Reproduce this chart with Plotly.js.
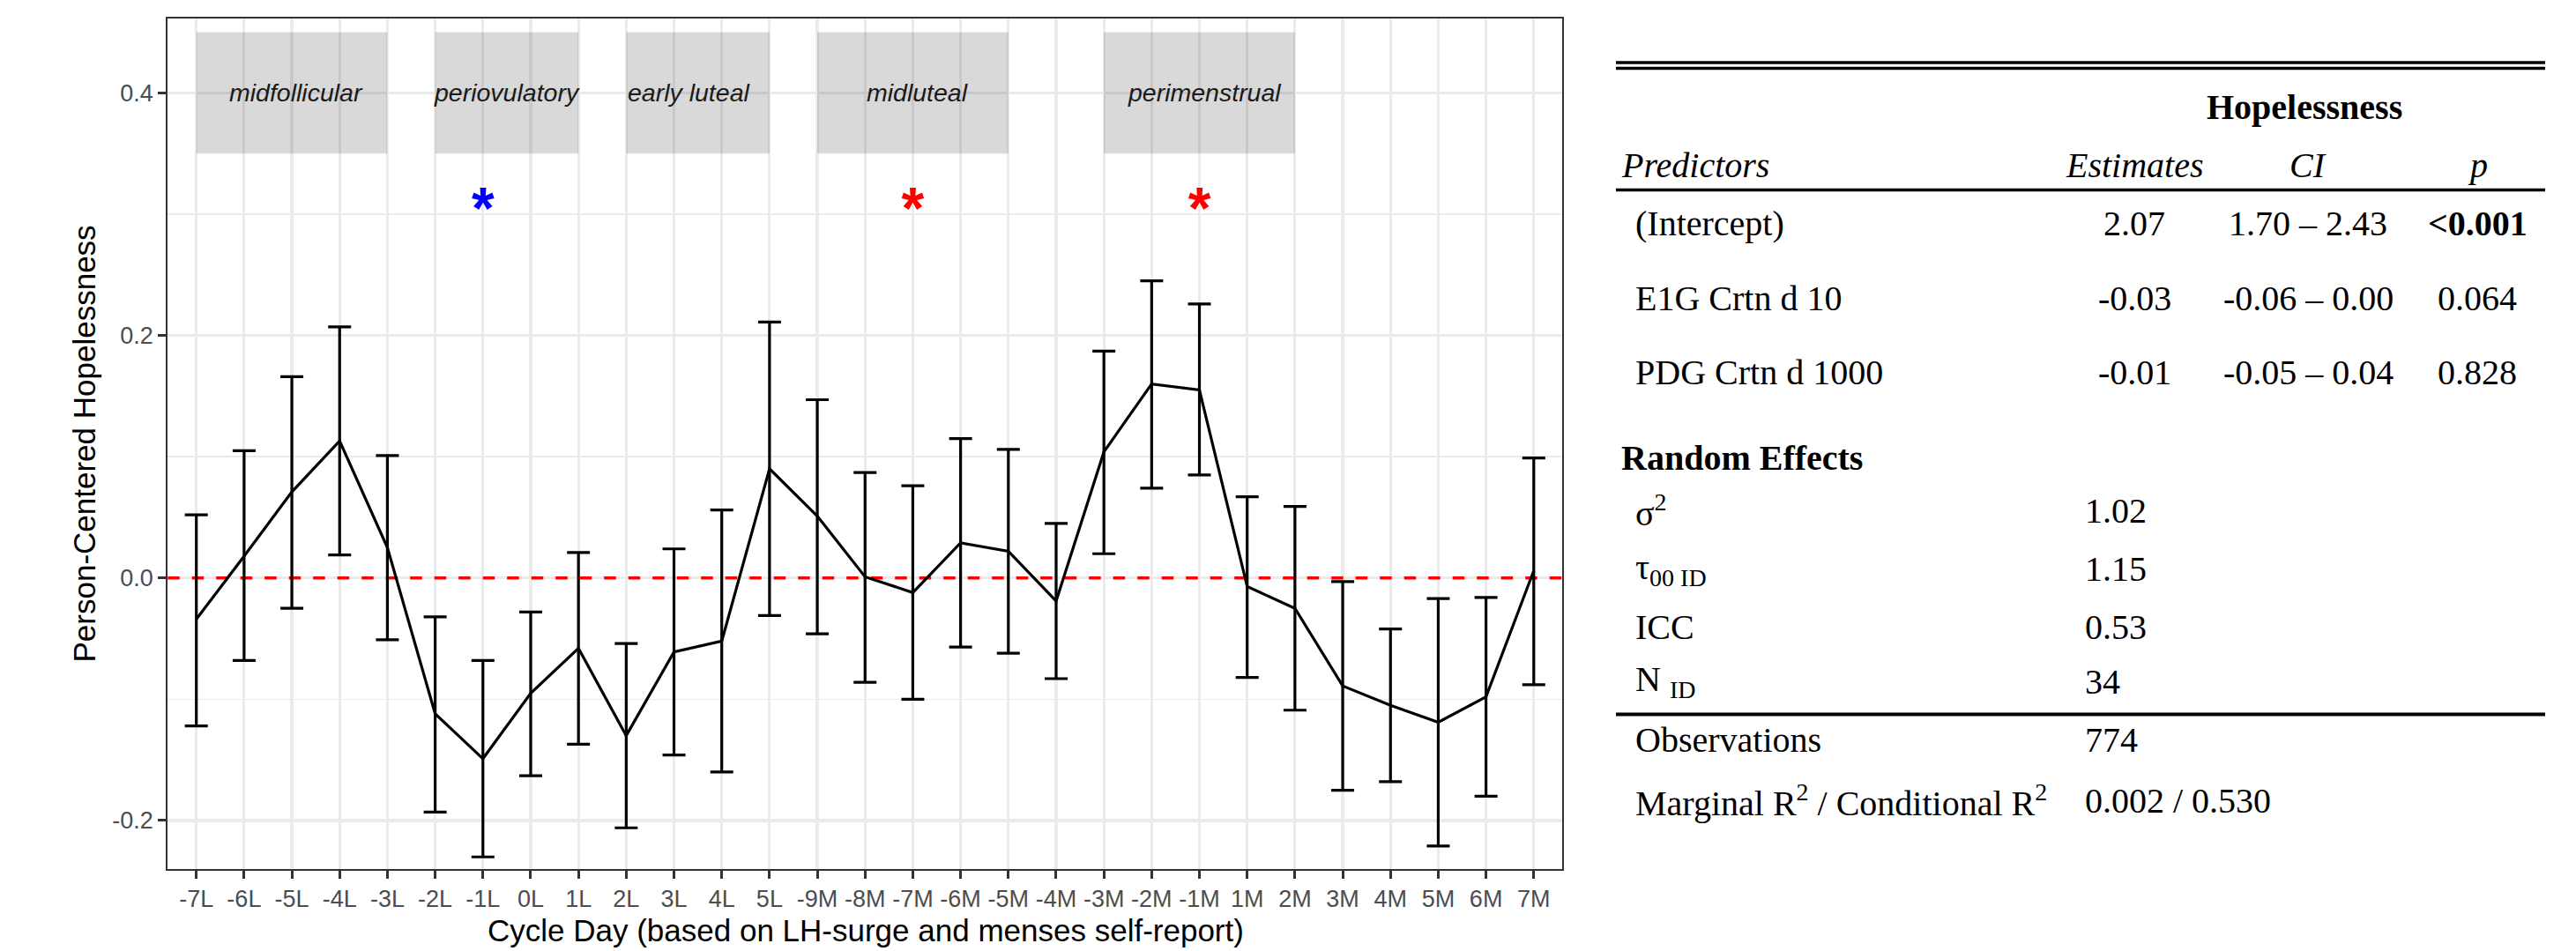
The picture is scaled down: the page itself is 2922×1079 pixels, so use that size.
<!DOCTYPE html>
<html>
<head>
<meta charset="utf-8">
<script src="https://cdn.plot.ly/plotly-3.0.1.min.js"></script>
<style>html,body{margin:0;padding:0;background:#fff;}#chart{width:2922px;height:1079px;}</style>
</head>
<body>
<div id="chart"></div>
<script>
// ---------------- DATA ----------------
const cycleDays = ['-7L','-6L','-5L','-4L','-3L','-2L','-1L','0L','1L','2L','3L','4L','5L',
  '-9M','-8M','-7M','-6M','-5M','-4M','-3M','-2M','-1M','1M','2M','3M','4M','5M','6M','7M'];
const hopelessEstimate = [-0.034,0.018,0.071,0.113,0.025,-0.112,-0.149,-0.095,-0.058,-0.130,-0.061,-0.052,0.090,
  0.051,0.001,-0.012,0.029,0.022,-0.019,0.104,0.160,0.155,-0.007,-0.025,-0.089,-0.105,-0.119,-0.098,0.006];
const hopelessUpper = [0.052,0.105,0.166,0.207,0.101,-0.032,-0.068,-0.028,0.021,-0.054,0.024,0.056,0.211,
  0.147,0.087,0.076,0.115,0.106,0.045,0.187,0.245,0.226,0.067,0.059,-0.003,-0.042,-0.017,-0.016,0.099];
const hopelessLower = [-0.122,-0.068,-0.025,0.019,-0.051,-0.193,-0.230,-0.163,-0.137,-0.206,-0.146,-0.160,-0.031,
  -0.046,-0.086,-0.100,-0.057,-0.062,-0.083,0.020,0.074,0.085,-0.082,-0.109,-0.175,-0.168,-0.221,-0.180,-0.088];

const yTickVals = [-0.2, 0, 0.2, 0.4];
const yTickText = ['-0.2', '0.0', '0.2', '0.4'];

const phaseNames = ['midfollicular','periovulatory','early luteal','midluteal','perimenstrual'];
const phaseStart = ['-7L','-2L','2L','-9M','-3M'];
const phaseEnd   = ['-3L','1L','5L','-5M','2M'];
const phaseLabelX = [2.1, 6.5, 10.3, 15.1, 21.1];   // label centres, in day-index units
const phaseBandLow = 0.35, phaseBandHigh = 0.45, phaseLabelY = 0.4;

const sigDays = ['-1L','-7M','-1M'];
const sigY = [0.3,0.3,0.3];
const sigColors = ['#0000FF','#FF0000','#FF0000'];

const refLineY = 0;

// table
const tblDependent = 'Hopelessness';
const tblHeaders = ['Predictors','Estimates','CI','p'];
const tblPredictors = ['(Intercept)','E1G Crtn d 10','PDG Crtn d 1000'];
const tblEstimates = ['2.07','-0.03','-0.01'];
const tblCI = ['1.70 – 2.43','-0.06 – 0.00','-0.05 – 0.04'];
const tblP = ['<0.001','0.064','0.828'];
const tblPBold = [true,false,false];
const reTitle = 'Random Effects';
const reLabels = ['σ<sup>2</sup>','τ<sub>00 ID</sub>','ICC','N <sub>ID</sub>'];
const reValues = ['1.02','1.15','0.53','34'];
const fitLabels = ['Observations','Marginal R<sup>2</sup> / Conditional R<sup>2</sup>'];
const fitValues = ['774','0.002 / 0.530'];

// ---------------- LAYOUT HELPERS ----------------
const W = 2922, H = 1079;
const px = x => x / W;
const py = y => 1 - y / H;
const SANS = 'Liberation Sans, Arial, sans-serif';
const SERIF = 'Liberation Serif, Times New Roman, serif';
const xRange = [-0.6, cycleDays.length - 1 + 0.6];

const traces = [];
traces.push({
  type: 'scatter', mode: 'lines', x: cycleDays, y: hopelessEstimate,
  line: {color: '#000', width: 3.2},
  error_y: {type: 'data', symmetric: false,
    array: hopelessUpper.map((u,i) => u - hopelessEstimate[i]),
    arrayminus: hopelessLower.map((l,i) => hopelessEstimate[i] - l),
    color: '#000', thickness: 3.2, width: 13},
  hoverinfo: 'x+y', showlegend: false
});
traces.push({
  type: 'scatter', mode: 'text', x: sigDays, y: sigY, text: sigDays.map(() => '*'),
  textposition: 'middle center',
  textfont: {family: SANS, size: 66, color: sigColors, weight: 'bold'},
  showlegend: false, hoverinfo: 'skip'
});

const shapes = [];
phaseNames.forEach((n,i) => {
  shapes.push({type: 'rect', xref: 'x', yref: 'y', x0: phaseStart[i], x1: phaseEnd[i],
    y0: phaseBandLow, y1: phaseBandHigh, fillcolor: 'rgba(0,0,0,0.15)', line: {width: 0}, layer: 'between'});
});
shapes.push({type: 'line', xref: 'x', yref: 'y', x0: xRange[0], x1: xRange[1], y0: refLineY, y1: refLineY,
  line: {color: '#FF0000', width: 3.6, dash: '13.5px,14px'}, layer: 'between'});

// table rules
const tblX0 = 1833, tblX1 = 2887;
[{y: 71, w: 3.5}, {y: 77.5, w: 3.5}, {y: 215.5, w: 3.5}, {y: 810.5, w: 4}].forEach(r => {
  shapes.push({type: 'line', xref: 'paper', yref: 'paper', x0: px(tblX0), x1: px(tblX1), y0: py(r.y), y1: py(r.y),
    line: {color: '#000', width: r.w}, layer: 'above'});
});

const annotations = [];
phaseNames.forEach((n,i) => {
  annotations.push({xref: 'x', yref: 'y', x: phaseLabelX[i], y: phaseLabelY, text: '<i>' + n + '</i>', showarrow: false,
    font: {family: SANS, size: 28.5, color: '#1A1A1A'}, xanchor: 'center', yanchor: 'middle'});
});
// axis titles
annotations.push({xref: 'paper', yref: 'paper', x: px(982), y: py(1055),
  text: 'Cycle Day (based on LH-surge and menses self-report)', showarrow: false,
  font: {family: SANS, size: 35, color: '#000'}, xanchor: 'center', yanchor: 'middle'});
annotations.push({xref: 'paper', yref: 'paper', x: px(95), y: py(503.5),
  text: 'Person-Centered Hopelessness', textangle: -90, showarrow: false,
  font: {family: SANS, size: 35, color: '#000'}, xanchor: 'center', yanchor: 'middle'});

// table text
const TF = 40;
const colLabelX = 1853, colEstX = 2421, colCIX = 2618, colPX = 2810, reValX = 2362.6, sectionX = 1836.5;
function tAnn(x, y, text, anchor) {
  annotations.push({xref: 'paper', yref: 'paper', x: px(x), y: py(y), text: text, showarrow: false,
    font: {family: SERIF, size: TF, color: '#000'}, xanchor: anchor, yanchor: 'middle'});
}
tAnn(2614, 121, '<b>' + tblDependent + '</b>', 'center');
tAnn(sectionX, 188, '<i>' + tblHeaders[0] + '</i>', 'left');
tAnn(colEstX, 188, '<i>' + tblHeaders[1] + '</i>', 'center');
tAnn(colCIX, 188, '<i>' + tblHeaders[2] + '</i>', 'center');
tAnn(colPX, 188, '<i>' + tblHeaders[3] + '</i>', 'center');
const rowY = [253, 338, 423];
tblPredictors.forEach((p,i) => {
  tAnn(colLabelX, rowY[i], p, 'left');
  tAnn(colEstX, rowY[i], tblEstimates[i], 'center');
  tAnn(colCIX, rowY[i], tblCI[i], 'center');
  tAnn(colPX, rowY[i], tblPBold[i] ? '<b>' + tblP[i] + '</b>' : tblP[i], 'center');
});
tAnn(sectionX, 519, '<b>' + reTitle + '</b>', 'left');
const reY = [579, 646, 711, 773];
reLabels.forEach((l,i) => { tAnn(colLabelX, reY[i], l, 'left'); tAnn(reValX, reY[i], reValues[i], 'left'); });
const fitY = [839, 908];
fitLabels.forEach((l,i) => { tAnn(colLabelX, fitY[i], l, 'left'); tAnn(reValX, fitY[i], fitValues[i], 'left'); });

const layout = {
  width: W, height: H, margin: {l: 0, r: 0, t: 0, b: 0},
  paper_bgcolor: '#fff', plot_bgcolor: '#fff', showlegend: false,
  xaxis: {domain: [px(190.2), px(1772.3)], type: 'category', range: xRange,
    categoryorder: 'array', categoryarray: cycleDays,
    showgrid: true, gridcolor: '#EBEBEB', gridwidth: 3.2, zeroline: false,
    showline: true, mirror: true, linecolor: '#333333', linewidth: 2,
    ticks: 'outside', ticklen: 9, tickwidth: 3, tickcolor: '#333333',
    tickfont: {family: SANS, size: 27, color: '#4D4D4D'}, automargin: false},
  yaxis: {domain: [py(985.6), py(21.3)], range: [-0.2397, 0.4611],
    tickmode: 'array', tickvals: yTickVals, ticktext: yTickText,
    showgrid: true, gridcolor: '#EBEBEB', gridwidth: 3.2, zeroline: false,
    minor: {tickmode: 'linear', tick0: 0.1, dtick: 0.1, showgrid: true, gridcolor: '#EBEBEB', gridwidth: 1.6, ticks: ''},
    showline: true, mirror: true, linecolor: '#333333', linewidth: 2,
    ticks: 'outside', ticklen: 9, tickwidth: 3, tickcolor: '#333333',
    tickfont: {family: SANS, size: 27, color: '#4D4D4D'}, automargin: false},
  shapes: shapes, annotations: annotations
};
Plotly.newPlot('chart', traces, layout, {displayModeBar: false, staticPlot: true});
</script>
</body>
</html>
